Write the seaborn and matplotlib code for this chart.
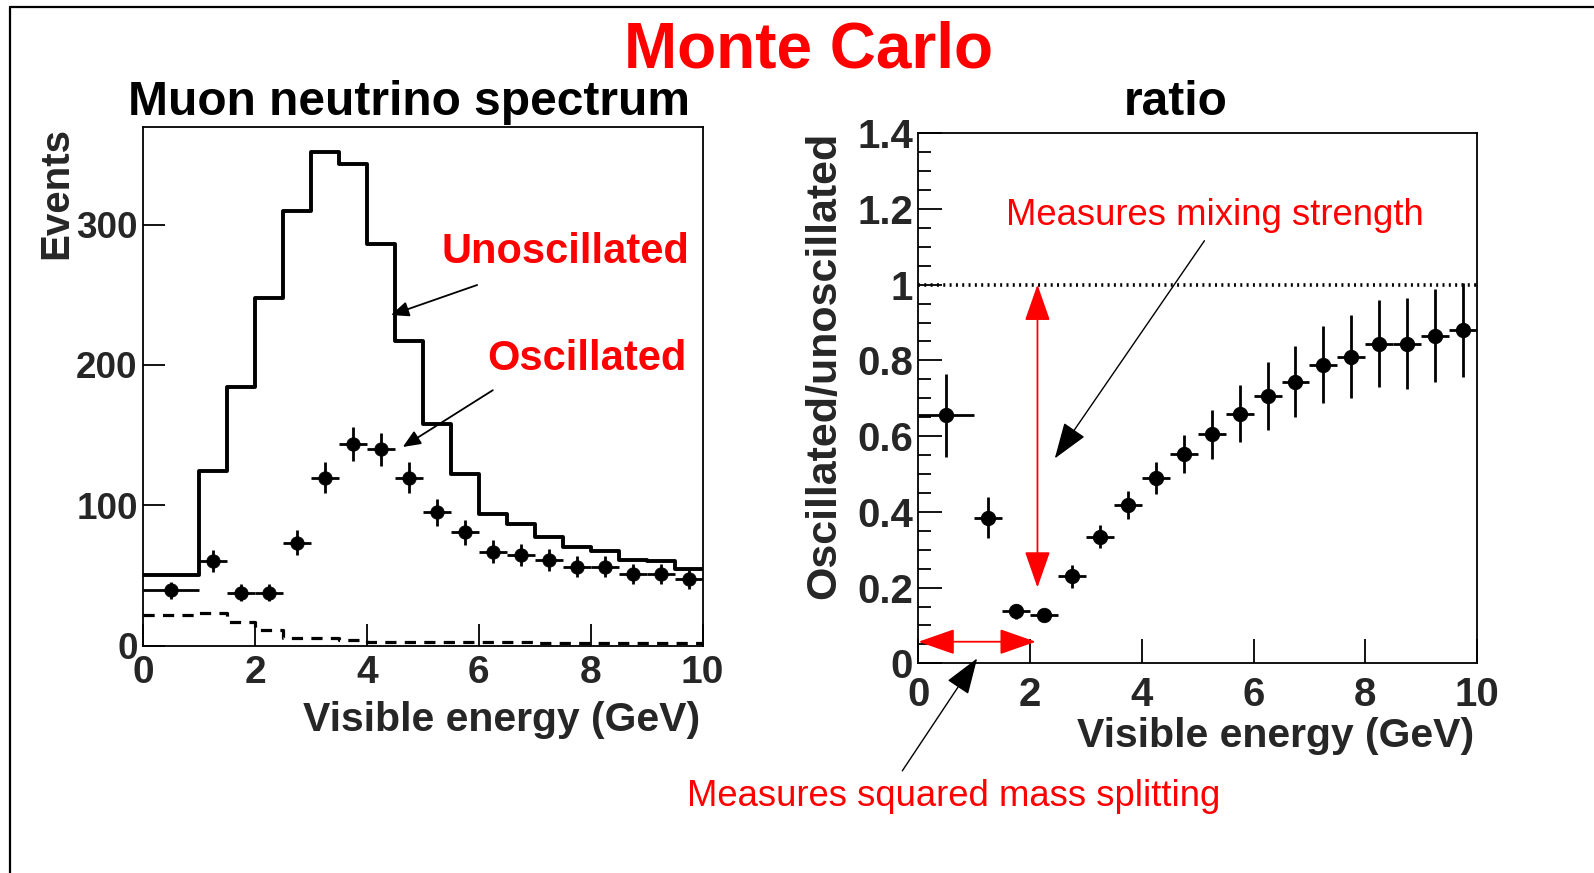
import numpy as np
import pandas as pd
import matplotlib
matplotlib.use("Agg")
import matplotlib.pyplot as plt
import seaborn as sns
from matplotlib.lines import Line2D

# ---- data -------------------------------------------------------------
# visible-energy bin edges (GeV), first bin is 1 GeV wide, the rest 0.5 GeV
bin_edges = [0, 1, 1.5, 2, 2.5, 3, 3.5, 4, 4.5, 5, 5.5, 6, 6.5, 7, 7.5, 8, 8.5, 9, 9.5, 10]

# expected events without oscillation (solid histogram)
unoscillated = [50, 124.5, 184.5, 247.5, 310, 352, 343, 286, 217, 158, 122,
                93.5, 86.5, 77, 70.5, 67.5, 61, 60, 54.5]
# background component (dashed histogram)
background = [22, 23, 16.5, 11, 5.5, 5.5, 4, 2.8, 2.8, 2.8, 2.8,
              2.2, 2.2, 2.0, 2.0, 2.0, 1.8, 1.8, 1.8]
# oscillated spectrum (points) and statistical errors
oscillated = [39.3, 60.2, 37.6, 37.6, 73.4, 119.7, 143.6, 140, 119.7, 95,
              80.6, 66.9, 64.5, 60.9, 56.1, 56.1, 50.8, 50.8, 47.2]
oscillated_err = [6.3, 7.8, 6.1, 6.1, 8.6, 10.9, 12.0, 11.8, 10.9, 9.7,
                  9.0, 8.2, 8.0, 7.8, 7.5, 7.5, 7.1, 7.1, 6.9]
# oscillated / unoscillated ratio and errors
ratio = [0.655, 0.385, 0.137, 0.128, 0.23, 0.334, 0.419, 0.489, 0.553, 0.605,
         0.659, 0.705, 0.744, 0.789, 0.81, 0.844, 0.844, 0.865, 0.88]
ratio_err = [0.11, 0.054, 0.02, 0.015, 0.03, 0.03, 0.037, 0.042, 0.05, 0.065,
             0.075, 0.09, 0.094, 0.102, 0.109, 0.115, 0.12, 0.123, 0.125]

left_yticks = [0, 100, 200, 300]
xticks = [0, 2, 4, 6, 8, 10]
right_yticks = [0, 0.2, 0.4, 0.6, 0.8, 1.0, 1.2, 1.4]
right_yticklabels = ["0", "0.2", "0.4", "0.6", "0.8", "1", "1.2", "1.4"]

edges = np.array(bin_edges, dtype=float)
centers = 0.5 * (edges[:-1] + edges[1:])
half_w = 0.5 * np.diff(edges)
df = pd.DataFrame({"E": centers, "unosc": unoscillated, "bkg": background,
                   "osc": oscillated, "osc_err": oscillated_err,
                   "ratio": ratio, "ratio_err": ratio_err})

# ---- style --------------------------------------------------------------
sns.set_theme(style="white")
plt.rcParams["font.family"] = ["Liberation Sans", "DejaVu Sans"]

W, H = 1594, 873
fig = plt.figure(figsize=(W / 100, H / 100), dpi=100)
fig.patch.set_facecolor("white")


def fx(px):
    return px / W


def fy(py):
    return 1 - py / H


RED = "#ff0000"

# slide frame (top and left edges)
fig.add_artist(Line2D([fx(10), 1], [fy(7), fy(7)], transform=fig.transFigure,
                      color="black", lw=1.6))
fig.add_artist(Line2D([fx(10), fx(10)], [0, fy(7)], transform=fig.transFigure,
                      color="black", lw=1.6))

fig.text(fx(808), fy(67), "Monte Carlo", color=RED, fontsize=46,
         fontweight="bold", ha="center", va="baseline")


def frame(ax):
    for s in ax.spines.values():
        s.set_visible(True)
        s.set_color("black")
        s.set_linewidth(1.3)
    ax.set_facecolor("white")


# ---- left: muon neutrino spectrum ---------------------------------------
axL = fig.add_axes([fx(143.3), fy(645.5), fx(702.5) - fx(143.3), (645.5 - 126.5) / H])
frame(axL)
sns.histplot(data=df, x="E", weights="unosc", bins=bin_edges, element="step",
             fill=False, color="black", linewidth=2.8, ax=axL)
sns.histplot(data=df, x="E", weights="bkg", bins=bin_edges, element="step",
             fill=False, color="black", linewidth=2.3, ax=axL,
             linestyle=(0, (3.5, 2.6)))
axL.errorbar(df["E"], df["osc"], xerr=half_w, yerr=df["osc_err"], fmt="none",
             ecolor="black", elinewidth=2.0, capsize=0, zorder=3)
sns.scatterplot(data=df, x="E", y="osc", color="black", s=95, edgecolor="black",
                linewidth=0.5, zorder=4, ax=axL)
axL.set_xlim(0, 10)
axL.set_ylim(0, 370)
axL.set_xticks(xticks)
axL.set_xticklabels([str(t) for t in xticks], fontsize=28, fontweight="bold")
axL.set_yticks(left_yticks)
axL.set_yticklabels([str(t) for t in left_yticks], fontsize=26.5, fontweight="bold")
axL.tick_params(axis="both", direction="in", length=16, width=1.3, color="black",
                top=False, right=False, left=True, bottom=True)
axL.tick_params(axis="x", pad=7)
axL.tick_params(axis="y", pad=4)
axL.set_xlabel("Visible energy (GeV)", fontsize=29.5, fontweight="bold",
               ha="right", va="center")
axL.xaxis.set_label_coords(0.995, -0.1435)
axL.set_ylabel("Events", fontsize=29, fontweight="bold", ha="right", va="center")
axL.yaxis.set_label_coords(-0.156, 0.999)

fig.text(fx(409), fy(115), "Muon neutrino spectrum", fontsize=34.5,
         fontweight="bold", ha="center", va="baseline", color="black")

axL.text(9.76, (645.5 - 263) / 1.4027, "Unoscillated", color=RED, fontsize=30,
         fontweight="bold", ha="right", va="baseline")
axL.text(9.72, (645.5 - 370) / 1.4027, "Oscillated", color=RED, fontsize=30,
         fontweight="bold", ha="right", va="baseline")
small_head = dict(arrowstyle="-|>,head_length=0.4,head_width=0.17",
                  color="black", lw=1.3, mutation_scale=27,
                  shrinkA=0, shrinkB=0)
axL.annotate("", xy=(4.43, 235.6), xytext=(5.97, 257), arrowprops=small_head)
axL.annotate("", xy=(4.64, 141.5), xytext=(6.25, 182), arrowprops=small_head)

# ---- right: ratio ---------------------------------------------------------
axR = fig.add_axes([fx(918.5), fy(663.3), fx(1477) - fx(918.5), (663.3 - 133.2) / H])
frame(axR)
axR.axhline(1.0, color="black", lw=2.6, linestyle=(0, (0.55, 1.2)), zorder=2)
axR.errorbar(df["E"], df["ratio"], xerr=half_w, yerr=df["ratio_err"], fmt="none",
             ecolor="black", elinewidth=2.0, capsize=0, zorder=3)
sns.scatterplot(data=df, x="E", y="ratio", color="black", s=110, edgecolor="black",
                linewidth=0.5, zorder=4, ax=axR)
axR.set_xlim(0, 10)
axR.set_ylim(0, 1.4)
axR.set_xticks(xticks)
axR.set_xticklabels([str(t) for t in xticks], fontsize=29, fontweight="bold")
axR.set_yticks(right_yticks)
axR.set_yticklabels(right_yticklabels, fontsize=29, fontweight="bold")
axR.set_yticks(np.arange(0, 1.4001, 0.05), minor=True)
axR.tick_params(axis="both", which="major", direction="in", length=17, width=1.3,
                color="black", top=False, right=False, left=True, bottom=True)
axR.tick_params(axis="y", which="minor", direction="in", length=9, width=1.3,
                color="black", left=True, right=False)
axR.tick_params(axis="x", which="minor", bottom=False, top=False)
axR.tick_params(axis="x", pad=9)
axR.tick_params(axis="y", pad=4)
axR.set_xlabel("Visible energy (GeV)", fontsize=29.5, fontweight="bold",
               ha="right", va="center")
axR.xaxis.set_label_coords(0.9946, -0.137)
axR.set_ylabel("Oscillated/unoscillated", fontsize=31, fontweight="bold",
               ha="right", va="center")
axR.yaxis.set_label_coords(-0.169, 1.0025)

fig.text(fx(1176), fy(115), "ratio", fontsize=34.5, fontweight="bold",
         ha="center", va="baseline", color="black")

big_head = dict(arrowstyle="-|>,head_length=0.4,head_width=0.14",
                color="black", lw=1.0, mutation_scale=57,
                shrinkA=0, shrinkB=0)
red_double = dict(arrowstyle="<|-|>,head_length=0.4,head_width=0.14",
                  color=RED, lw=1.3, mutation_scale=57, shrinkA=0, shrinkB=0)

axR.text(5.3, (663.3 - 225) / 378.6, "Measures mixing strength", color=RED,
         fontsize=26.3, ha="center", va="baseline")
axR.annotate("", xy=(2.44, 0.541), xytext=(5.12, 1.116), arrowprops=big_head)
axR.annotate("", xy=(2.13, 1.0), xytext=(2.13, 0.2), arrowprops=red_double)
axR.annotate("", xy=(2.1, 0.057), xytext=(0.0, 0.057), arrowprops=red_double,
             annotation_clip=False)
axR.annotate("", xy=(1.05, 0.013), xytext=(-0.29, -0.284), arrowprops=big_head,
             annotation_clip=False)
fig.text(fx(953.5), fy(806), "Measures squared mass splitting", color=RED,
         fontsize=26.3, ha="center", va="baseline")

fig.savefig("out.png", dpi=100, facecolor="white")
